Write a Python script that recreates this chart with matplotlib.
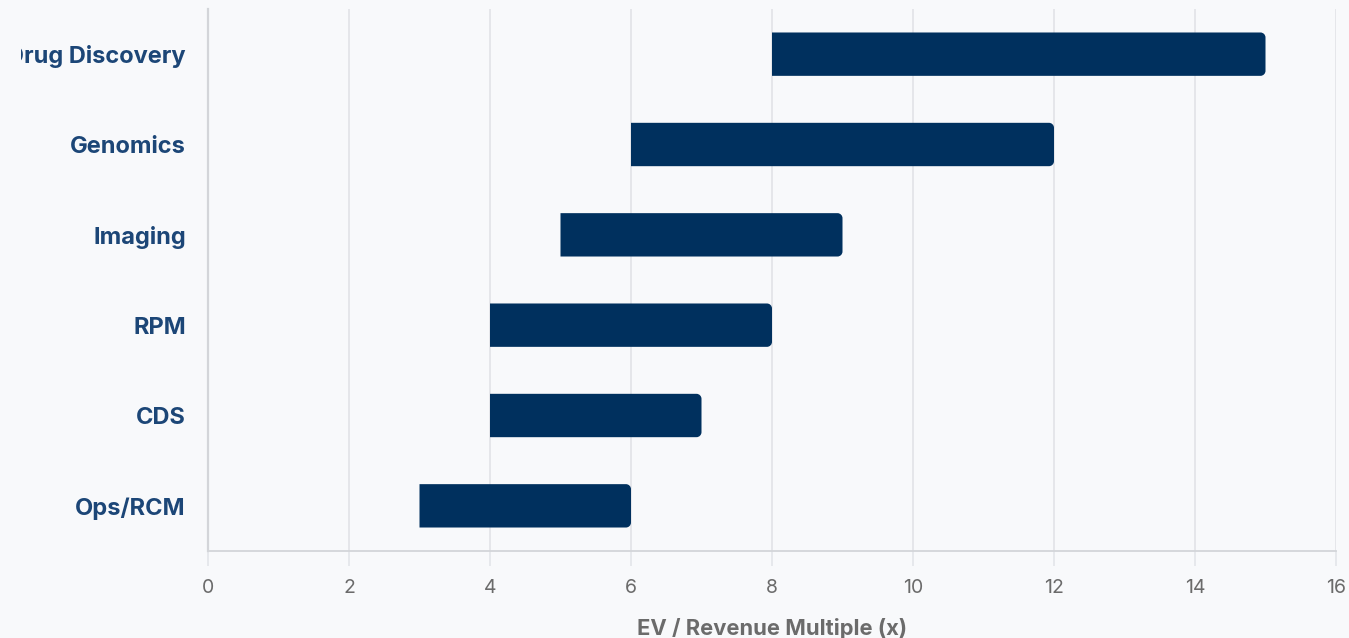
import matplotlib
matplotlib.use("Agg")
import matplotlib.pyplot as plt
from matplotlib.path import Path
from matplotlib.patches import PathPatch
from matplotlib.transforms import Bbox, TransformedBbox

# EV / revenue multiple ranges by segment (low, high)
segments = ["Ops/RCM", "CDS", "RPM", "Imaging", "Genomics", "Drug Discovery"]
low_multiple = [3, 4, 4, 5, 6, 8]
high_multiple = [6, 7, 8, 9, 12, 15]
x_ticks = [0, 2, 4, 6, 8, 10, 12, 14, 16]

BG = "#f8f9fb"
BAR = "#00305e"
LABEL = "#1c4677"
GRID = "#e3e5e9"
SPINE = "#d3d5d9"
TICK = "#6b6b6b"

plt.rcParams["font.family"] = ["Inter", "DejaVu Sans"]

fig = plt.figure(figsize=(13.49, 6.38), dpi=100, facecolor=BG)
ax = fig.add_axes([208 / 1349, 87 / 638, 1128 / 1349, 542 / 638], facecolor=BG)

ax.set_xlim(0, 16)
ax.set_ylim(-0.5, len(segments) - 0.5)

bar_h = 0.48
# corner radius in data units (about 5 px each way)
rx = 5 / 70.5
ry = 5 / 90.3


def range_bar(y, x0, x1):
    """Bar from x0 to x1, square on the left, rounded on the right."""
    b, t = y - bar_h / 2, y + bar_h / 2
    k = 0.5523
    verts = [
        (x0, b), (x1 - rx, b),
        (x1 - rx + k * rx, b), (x1, b + ry - k * ry), (x1, b + ry),
        (x1, t - ry),
        (x1, t - ry + k * ry), (x1 - rx + k * rx, t), (x1 - rx, t),
        (x0, t), (x0, b),
    ]
    codes = [Path.MOVETO, Path.LINETO,
             Path.CURVE4, Path.CURVE4, Path.CURVE4,
             Path.LINETO,
             Path.CURVE4, Path.CURVE4, Path.CURVE4,
             Path.LINETO, Path.CLOSEPOLY]
    return PathPatch(Path(verts, codes), facecolor=BAR, edgecolor="none", zorder=3)


for i, (lo, hi) in enumerate(zip(low_multiple, high_multiple)):
    ax.add_patch(range_bar(i, lo, hi))

ax.set_xticks(x_ticks)
ax.set_xticklabels([str(t) for t in x_ticks])
ax.set_yticks(range(len(segments)))
ax.set_yticklabels(segments)

ax.grid(axis="x", color=GRID, linewidth=1.3, zorder=0)
ax.set_axisbelow(True)

for side in ["top", "right"]:
    ax.spines[side].set_visible(False)
ax.spines["left"].set_color(SPINE)
ax.spines["left"].set_linewidth(1.6)
ax.spines["bottom"].set_color(SPINE)
ax.spines["bottom"].set_linewidth(1.3)

ax.tick_params(axis="x", length=11, width=1.2, color=GRID, labelsize=14, labelcolor=TICK, pad=9)
ax.tick_params(axis="y", length=0, pad=16)

# long labels get cut at the left edge of the label column
label_clip = TransformedBbox(Bbox([[21 / 1349, 0], [1, 1]]), fig.transFigure)
for lbl in ax.get_yticklabels():
    lbl.set_fontsize(17)
    lbl.set_fontweight("bold")
    lbl.set_color(LABEL)
    lbl.set_clip_on(True)
    lbl.set_clip_box(label_clip)

ax.set_xlabel("EV / Revenue Multiple (x)", fontsize=15.8, fontweight="bold", color=TICK, labelpad=15)

fig.savefig("out.png", dpi=100, facecolor=BG)
